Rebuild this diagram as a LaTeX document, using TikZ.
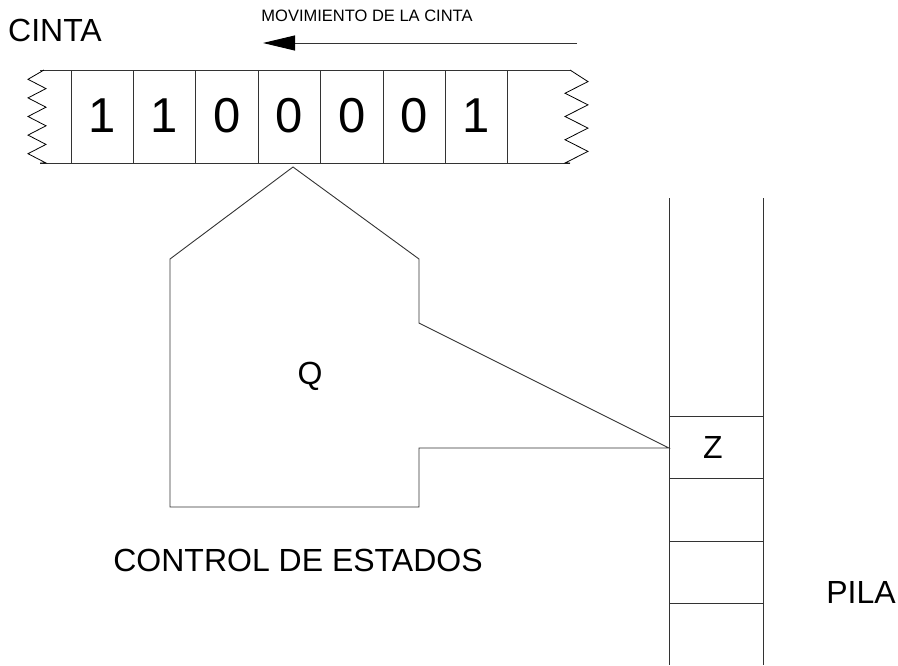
\documentclass[tikz,border=0pt]{standalone}
\usepackage{fontspec}
\setmainfont{Liberation Sans}
\usepackage{tikz}
\usetikzlibrary{arrows.meta}

\tikzset{
  linea/.style={draw=black!80, line width=0.9pt},
  grande/.style={font=\fontsize{32}{36}\selectfont, inner sep=0pt},
  digito/.style={font=\fontsize{49}{52}\selectfont, inner sep=0pt},
  chico/.style={font=\fontsize{16.5}{18}\selectfont, inner sep=0pt}
}

\begin{document}
\begin{tikzpicture}[x=1pt,y=-1pt]
				\useasboundingbox (0,0) rectangle (898,665);
				% cinta
				\draw (55,30) node[grande] (cinta) {CINTA};
				\draw (367,16) node[chico] (mov) {MOVIMIENTO DE LA CINTA};
				\coordinate (movA) at (577,43);
				\coordinate (movB) at (263,43);
				\draw[linea,-{Triangle[length=32pt,width=15pt,fill=black,color=black]}] (movA) -- (movB);
				
				\draw[linea] (40,70) -- (570,70);
				\draw[linea] (40,163) -- (570,163);
				\foreach \k in {0,...,7}
					\draw[linea] (71+62.4*\k,70) -- (71+62.4*\k,163);
				\foreach \d [count=\i] in {1,1,0,0,0,0,1}
					\draw (102.2+62.4*\i-62.4,116) node[digito] (c\i) {\d};
				% bordes rotos
				\draw[black, line width=0.8pt] (44,70)
					\foreach \j in {0,...,4} { -- (28,79.3+18.6*\j) -- (46,88.6+18.6*\j) } -- (40,163);
				\draw[black, line width=0.8pt] (570,70)
					\foreach \j in {0,...,3} { -- (588,81.6+23.25*\j) -- (565,93.25+23.25*\j) } -- (570,163);
				
				% control de estados
				\coordinate (cabeza) at (293,167);
				\coordinate (tope) at (669,448);
				\draw[linea] (cabeza) -- (419,259) -- (419,323) -- (tope) -- (419,448)
					-- (419,507) -- (170,507) -- (170,259) -- cycle;
				\draw (310,376) node[grande] (q) {Q};
				\draw (298,560) node[grande] (control) {CONTROL DE ESTADOS};
				
				% pila
				\draw[linea] (669,198) -- (669,665);
				\draw[linea] (763,198) -- (763,665);
				\foreach \y in {416,478,541,603}
					\draw[linea] (669,\y) -- (763,\y);
				\draw (713,447) node[grande] (z) {Z};
				\draw (861,592) node[grande] (pila) {PILA};
			\end{tikzpicture}
\end{document}
